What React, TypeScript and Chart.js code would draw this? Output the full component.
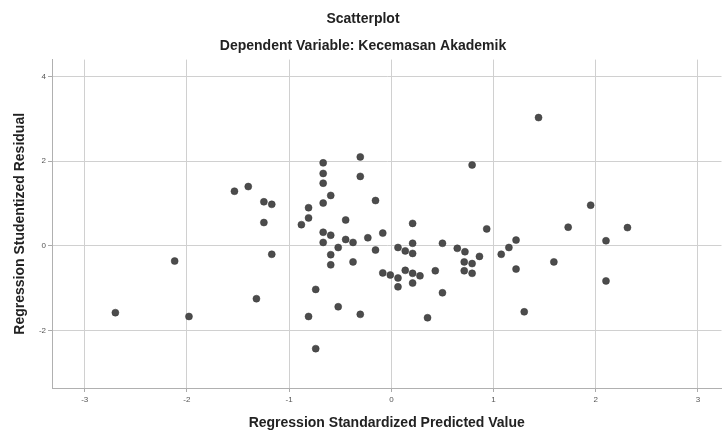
import React, { useEffect, useRef } from 'react';
import { Chart, registerables } from 'chart.js';

Chart.register(...registerables);

const predictedValues: number[] = [
  -2.70, -2.12, -1.98, -1.535, -1.40, -1.247, -1.17, -1.247, -1.17, -1.32,
  -0.667, -0.667, -0.667, -0.667, -0.593, -0.304, -0.304, -0.155, -0.81, -0.81,
  -0.88, -0.447, -0.667, -0.593, -0.667, -0.447, -0.375, -0.23, -0.084, -0.52,
  -0.155, -0.593, -0.375, -0.593, -0.084, -0.74, -0.81, -0.52, -0.304, -0.74,
  1.44, 0.79, 1.95, 0.208, 0.933, 1.73, 2.31, 2.10, 1.22, 1.15,
  1.075, 1.59, 0.208, 0.50, 0.065, 0.136, 0.208, 0.645, 0.72, 0.862,
  2.10, 1.22, 1.30, 0.713, 0.79, 0.713, 0.79, 0.43, 0.50, 0.354,
  -0.01, 0.065, 0.136, 0.208, 0.28, 0.208, 0.065,
];

const studentizedResiduals: number[] = [
  -1.58, -0.36, -1.67, 1.29, 1.40, 1.04, 0.98, 0.55, -0.20, -1.25,
  1.96, 1.71, 1.48, 1.01, 1.19, 2.10, 1.64, 1.07, 0.90, 0.66,
  0.50, 0.61, 0.32, 0.25, 0.08, 0.15, 0.08, 0.19, 0.30, -0.04,
  -0.10, -0.21, -0.38, -0.45, -0.64, -1.03, -1.67, -1.44, -1.62, -2.43,
  3.03, 1.91, 0.96, 0.53, 0.40, 0.44, 0.43, 0.12, 0.135, -0.04,
  -0.20, -0.38, 0.06, 0.06, -0.04, -0.12, -0.18, -0.06, -0.14, -0.25,
  -0.83, -0.55, -1.56, -0.38, -0.42, -0.59, -0.65, -0.59, -1.11, -1.70,
  -0.69, -0.76, -0.58, -0.65, -0.71, -0.88, -0.97,
];

const xTicks: number[] = [-3, -2, -1, 0, 1, 2, 3];
const yTicks: number[] = [-2, 0, 2, 4];

const FAMILY = '"Liberation Sans", Arial, sans-serif';

export default function App() {
  const ref = useRef<HTMLCanvasElement>(null);

  useEffect(() => {
    if (!ref.current) return;
    const chart = new Chart(ref.current, {
      type: 'scatter',
      data: {
        datasets: [
          {
            data: predictedValues.map((x, i) => ({ x, y: studentizedResiduals[i] })),
            backgroundColor: '#4c4c4c',
            borderColor: '#363636',
            borderWidth: 0.5,
            pointRadius: 3.5,
          },
        ],
      },
      options: {
        responsive: false,
        animation: false,
        devicePixelRatio: 1,
        layout: { padding: 0 },
        plugins: {
          legend: { display: false },
          tooltip: { enabled: false },
          title: {
            display: true,
            text: 'Scatterplot',
            color: '#222',
            font: { family: FAMILY, size: 14, weight: 'bold' },
            padding: { top: 10.6, bottom: 0 },
          },
          subtitle: {
            display: true,
            text: 'Dependent Variable: Kecemasan Akademik',
            color: '#222',
            font: { family: FAMILY, size: 14, weight: 'bold' },
            padding: { top: 10.2, bottom: 5.2 },
          },
        },
        scales: {
          x: {
            type: 'linear',
            min: -3.32,
            max: 3.23,
            afterBuildTicks: (s: any) => {
              s.ticks = xTicks.map((v) => ({ value: v }));
            },
            afterFit: (s: any) => {
              s.height = 44;
            },
            grid: { color: '#d0d0d0', tickLength: 4, tickColor: '#aaa' },
            border: { color: '#b0b0b0' },
            ticks: {
              color: '#555',
              font: { family: FAMILY, size: 8 },
              padding: 3,
              maxRotation: 0,
            },
            title: {
              display: true,
              text: 'Regression Standardized Predicted Value',
              color: '#222',
              font: { family: FAMILY, size: 14, weight: 'bold' },
              padding: { top: 0, bottom: 0.6 },
            },
          },
          y: {
            type: 'linear',
            min: -3.36,
            max: 4.4,
            afterBuildTicks: (s: any) => {
              s.ticks = yTicks.map((v) => ({ value: v }));
            },
            afterFit: (s: any) => {
              s.width = 52;
            },
            grid: { color: '#d0d0d0', tickLength: 4, tickColor: '#aaa' },
            border: { color: '#b0b0b0' },
            ticks: {
              color: '#555',
              font: { family: FAMILY, size: 8 },
              padding: 2,
            },
            title: {
              display: true,
              text: 'Regression Studentized Residual',
              color: '#222',
              font: { family: FAMILY, size: 14, weight: 'bold' },
              padding: { top: 11.6, bottom: 0 },
            },
          },
        },
      },
    });
    return () => chart.destroy();
  }, []);

  return (
    <div style={{ position: 'absolute', left: 0, top: 0, width: 726, height: 432, background: '#fff' }}>
      <canvas ref={ref} width={726} height={432} />
    </div>
  );
}
